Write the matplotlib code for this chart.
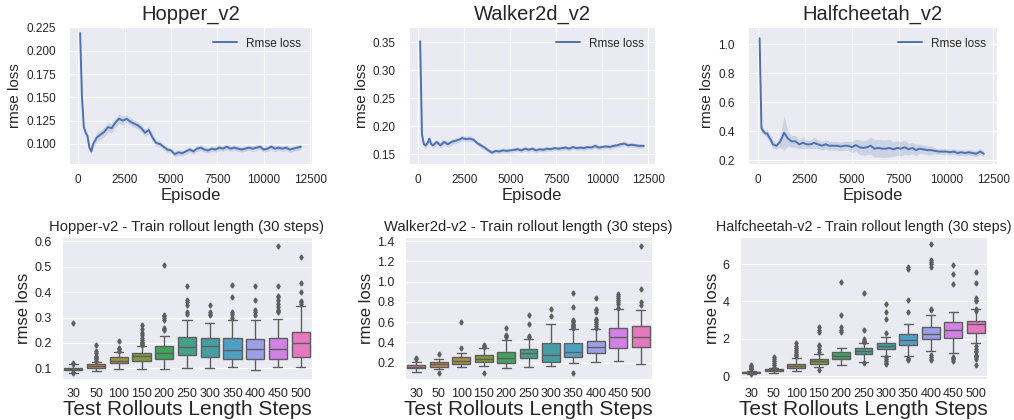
import numpy as np
import matplotlib
matplotlib.use("Agg")
import matplotlib.pyplot as plt
import seaborn as sns

# ---- top row: training curves ----
episodes = [100, 200, 300, 400, 500, 600, 700, 800, 1000, 1200, 1400, 1600, 1800,
            2000, 2200, 2400, 2600, 2800, 3000, 3200, 3400, 3600, 3800, 4000, 4200,
            4400, 4600, 4800, 5000, 5200, 5400, 5600, 5800, 6000, 6200, 6400, 6600,
            6800, 7000, 7200, 7400, 7600, 7800, 8000, 8200, 8400, 8600, 8800, 9000,
            9200, 9400, 9600, 9800, 10000, 10200, 10400, 10600, 10800, 11000, 11200,
            11400, 11600, 11800, 12000]
walker_episodes = episodes + [12250]

hopper_loss = [0.219, 0.150, 0.118, 0.112, 0.108, 0.096, 0.092, 0.100, 0.107, 0.110,
               0.113, 0.118, 0.117, 0.123, 0.127, 0.125, 0.127, 0.124, 0.122, 0.120,
               0.117, 0.112, 0.115, 0.107, 0.101, 0.100, 0.097, 0.094, 0.093, 0.089,
               0.091, 0.090, 0.092, 0.094, 0.092, 0.095, 0.096, 0.094, 0.093, 0.095,
               0.094, 0.096, 0.095, 0.097, 0.095, 0.096, 0.095, 0.094, 0.095, 0.096,
               0.095, 0.096, 0.097, 0.094, 0.095, 0.097, 0.095, 0.096, 0.095, 0.096,
               0.094, 0.095, 0.096, 0.097]
hopper_spread = [0.002, 0.003, 0.003, 0.003, 0.003, 0.003, 0.003, 0.004, 0.005, 0.005,
                 0.005, 0.005, 0.005, 0.005, 0.005, 0.005, 0.004, 0.004, 0.004, 0.004,
                 0.004, 0.004, 0.004, 0.004, 0.003, 0.003, 0.003, 0.003, 0.003, 0.003,
                 0.003, 0.003, 0.003, 0.003, 0.003, 0.003, 0.003, 0.003, 0.003, 0.003,
                 0.003, 0.003, 0.003, 0.003, 0.003, 0.003, 0.003, 0.003, 0.003, 0.003,
                 0.003, 0.003, 0.003, 0.003, 0.003, 0.003, 0.003, 0.003, 0.003, 0.003,
                 0.003, 0.003, 0.003, 0.003]

walker_loss = [0.352, 0.185, 0.168, 0.166, 0.170, 0.178, 0.168, 0.166, 0.172, 0.166,
               0.172, 0.168, 0.172, 0.174, 0.176, 0.179, 0.177, 0.178, 0.176, 0.170,
               0.166, 0.162, 0.157, 0.153, 0.156, 0.155, 0.157, 0.156, 0.157, 0.158,
               0.159, 0.157, 0.160, 0.158, 0.160, 0.157, 0.159, 0.158, 0.160, 0.159,
               0.161, 0.160, 0.161, 0.162, 0.160, 0.163, 0.161, 0.162, 0.161, 0.163,
               0.162, 0.165, 0.162, 0.163, 0.164, 0.163, 0.165, 0.166, 0.168, 0.169,
               0.166, 0.167, 0.166, 0.165, 0.165]
walker_spread = [0.012, 0.008, 0.005, 0.005, 0.005, 0.005, 0.005, 0.005, 0.005, 0.005,
                 0.005, 0.005, 0.005, 0.005, 0.005, 0.005, 0.005, 0.005, 0.004, 0.004,
                 0.004, 0.004, 0.004, 0.004, 0.004, 0.004, 0.004, 0.004, 0.004, 0.004,
                 0.004, 0.004, 0.004, 0.004, 0.004, 0.004, 0.004, 0.004, 0.004, 0.004,
                 0.004, 0.004, 0.004, 0.004, 0.004, 0.004, 0.004, 0.004, 0.004, 0.004,
                 0.004, 0.004, 0.004, 0.004, 0.004, 0.004, 0.004, 0.004, 0.004, 0.004,
                 0.004, 0.004, 0.004, 0.004, 0.004]

cheetah_loss = [1.04, 0.42, 0.40, 0.385, 0.385, 0.36, 0.34, 0.31, 0.30, 0.33,
                0.39, 0.35, 0.33, 0.33, 0.31, 0.32, 0.31, 0.31, 0.32, 0.31,
                0.30, 0.31, 0.30, 0.30, 0.30, 0.295, 0.30, 0.30, 0.29, 0.305,
                0.29, 0.285, 0.29, 0.30, 0.28, 0.285, 0.28, 0.28, 0.285, 0.275,
                0.285, 0.28, 0.29, 0.275, 0.285, 0.27, 0.28, 0.275, 0.27, 0.27,
                0.265, 0.26, 0.26, 0.26, 0.255, 0.26, 0.25, 0.255, 0.25, 0.255,
                0.25, 0.245, 0.26, 0.245]
cheetah_spread = [0.05, 0.03, 0.02, 0.02, 0.03, 0.03, 0.03, 0.03, 0.02, 0.04,
                  0.12, 0.05, 0.04, 0.04, 0.03, 0.04, 0.03, 0.03, 0.04, 0.03,
                  0.03, 0.03, 0.03, 0.03, 0.03, 0.03, 0.03, 0.03, 0.04, 0.04,
                  0.05, 0.05, 0.05, 0.06, 0.06, 0.06, 0.06, 0.06, 0.06, 0.05,
                  0.05, 0.05, 0.05, 0.04, 0.04, 0.04, 0.03, 0.03, 0.03, 0.03,
                  0.02, 0.02, 0.02, 0.02, 0.02, 0.02, 0.02, 0.02, 0.02, 0.02,
                  0.02, 0.02, 0.02, 0.02]

# ---- bottom row: box plots of test rollout errors ----
steps = ["30", "50", "100", "150", "200", "250", "300", "350", "400", "450", "500"]

# per box: q1, median, q3, lower whisker, upper whisker
hopper_q1 = [0.092, 0.100, 0.120, 0.129, 0.137, 0.151, 0.143, 0.135, 0.135, 0.138, 0.143]
hopper_med = [0.096, 0.108, 0.130, 0.150, 0.159, 0.185, 0.188, 0.172, 0.175, 0.175, 0.201]
hopper_q3 = [0.100, 0.117, 0.144, 0.159, 0.189, 0.224, 0.218, 0.218, 0.214, 0.218, 0.244]
hopper_lo = [0.083, 0.090, 0.096, 0.097, 0.096, 0.100, 0.100, 0.104, 0.093, 0.104, 0.104]
hopper_hi = [0.116, 0.126, 0.163, 0.188, 0.228, 0.292, 0.277, 0.289, 0.289, 0.295, 0.345]
hopper_fliers = [
    [0.279, 0.118, 0.121, 0.085, 0.080],
    [0.130, 0.135, 0.140, 0.145, 0.150, 0.160, 0.170, 0.193],
    [0.170, 0.175, 0.180, 0.206],
    [0.190, 0.195, 0.200, 0.205, 0.210, 0.220, 0.230, 0.240, 0.255, 0.270],
    [0.250, 0.255, 0.260, 0.290, 0.300, 0.305, 0.310, 0.505],
    [0.315, 0.320, 0.350, 0.360, 0.370, 0.425],
    [0.310, 0.315, 0.320, 0.350],
    [0.300, 0.315, 0.320, 0.380, 0.430],
    [0.310, 0.320, 0.330, 0.370, 0.425],
    [0.320, 0.325, 0.330, 0.340, 0.355, 0.370, 0.380, 0.385, 0.425, 0.580],
    [0.355, 0.360, 0.365, 0.400, 0.435, 0.540],
]

walker_q1 = [0.145, 0.154, 0.187, 0.210, 0.193, 0.246, 0.207, 0.259, 0.298, 0.350, 0.356]
walker_med = [0.161, 0.187, 0.220, 0.233, 0.249, 0.298, 0.275, 0.311, 0.353, 0.451, 0.451]
walker_q3 = [0.175, 0.210, 0.259, 0.275, 0.311, 0.340, 0.396, 0.396, 0.415, 0.539, 0.558]
walker_lo = [0.112, 0.135, 0.154, 0.170, 0.145, 0.160, 0.167, 0.193, 0.203, 0.216, 0.190]
walker_hi = [0.210, 0.242, 0.300, 0.350, 0.428, 0.438, 0.578, 0.533, 0.530, 0.730, 0.720]
walker_fliers = [
    [0.235, 0.245],
    [0.290, 0.100],
    [0.350, 0.600],
    [0.360, 0.370, 0.380, 0.100],
    [0.450, 0.460, 0.470, 0.545],
    [0.450, 0.460, 0.580, 0.670],
    [0.665, 0.730],
    [0.540, 0.550, 0.560, 0.570, 0.580, 0.600, 0.610, 0.620, 0.750, 0.885, 0.100],
    [0.540, 0.560, 0.580, 0.600, 0.620, 0.630, 0.700, 0.720, 0.730, 0.835],
    [0.740, 0.780, 0.800, 0.820, 0.840, 0.860, 0.875],
    [0.770, 0.800, 0.930, 1.350],
]

cheetah_q1 = [0.14, 0.25, 0.41, 0.645, 0.91, 1.18, 1.43, 1.65, 1.97, 2.02, 2.33]
cheetah_med = [0.20, 0.30, 0.54, 0.81, 1.09, 1.34, 1.63, 1.93, 2.26, 2.47, 2.79]
cheetah_q3 = [0.23, 0.36, 0.645, 0.93, 1.27, 1.52, 1.79, 2.24, 2.61, 2.87, 2.95]
cheetah_lo = [0.11, 0.15, 0.27, 0.50, 0.59, 0.77, 1.09, 1.07, 1.34, 1.22, 1.76]
cheetah_hi = [0.29, 0.45, 0.99, 1.16, 1.52, 1.76, 2.08, 2.78, 3.26, 3.42, 3.58]
cheetah_fliers = [
    [0.35, 0.40, 0.45, 0.50, 0.55, 0.60, 0.10],
    [0.50, 0.60, 0.70, 0.80, 0.90, 1.04],
    [1.05, 1.10, 1.20, 1.30, 1.40, 1.50, 1.60, 1.75],
    [1.30, 1.45, 1.60, 1.65, 2.35, 2.45, 2.60, 0.30],
    [2.35, 2.45, 2.60, 3.25, 5.05],
    [1.80, 1.85, 1.90, 2.00, 2.45, 4.45, 0.70],
    [2.30, 3.05, 3.45, 3.85, 0.65, 0.70, 0.80, 0.90, 1.00],
    [3.45, 4.10, 5.75, 5.85, 0.90, 0.95, 0.85],
    [3.55, 3.60, 5.85, 6.00, 6.10, 6.20, 7.10, 0.90, 1.00, 1.10, 0.85],
    [4.95, 5.45, 5.95, 0.80, 0.90, 0.95, 1.00],
    [3.50, 3.60, 4.00, 4.10, 4.20, 5.00, 5.60, 0.60, 0.90, 1.00, 1.05, 1.10,
     1.30, 1.35, 1.45, 1.60],
]

sns.set_style("darkgrid")
plt.rcParams["font.family"] = ["Liberation Sans", "DejaVu Sans"]
plt.rcParams["xtick.major.pad"] = 3
plt.rcParams["ytick.major.pad"] = 4

fig = plt.figure(figsize=(10.14, 4.2), dpi=100)

line_color = "#4c72b0"
top_specs = [
    ("Hopper_v2", episodes, hopper_loss, hopper_spread, [0.69, 2.56, 2.43, 1.37],
     (-500, 12600), (0.0785, 0.2255), [0.100, 0.125, 0.150, 0.175, 0.200, 0.225], "{:.3f}"),
    ("Walker2d_v2", walker_episodes, walker_loss, walker_spread, [4.09, 2.56, 2.46, 1.37],
     (-505, 12860), (0.1326, 0.3776), [0.15, 0.20, 0.25, 0.30, 0.35], "{:.2f}"),
    ("Halfcheetah_v2", episodes, cheetah_loss, cheetah_spread, [7.48, 2.56, 2.49, 1.37],
     (-515, 12700), (0.1745, 1.117), [0.2, 0.4, 0.6, 0.8, 1.0], "{:.1f}"),
]

for title, x, y, s, rect, xl, yl, yt, fmt in top_specs:
    ax = fig.add_axes([rect[0] / 10.14, rect[1] / 4.2, rect[2] / 10.14, rect[3] / 4.2])
    y = np.array(y)
    s = np.array(s)
    ax.fill_between(x, y - s, y + s, color=line_color, alpha=0.2, linewidth=0)
    ax.plot(x, y, color=line_color, linewidth=1.4, label="Rmse loss")
    ax.set_xlim(*xl)
    ax.set_ylim(*yl)
    ax.set_xticks([0, 2500, 5000, 7500, 10000, 12500])
    ax.set_yticks(yt)
    ax.set_yticklabels([fmt.format(v) for v in yt])
    ax.tick_params(labelsize=8.5, colors="#262626")
    ax.tick_params(axis="x", pad=4)
    ax.tick_params(axis="y", pad=6)
    ax.set_title(title, fontsize=14.5, color="#262626", pad=5)
    ax.set_xlabel("Episode", fontsize=12, color="#262626", labelpad=1)
    ax.set_ylabel("rmse loss", fontsize=11, color="#262626", labelpad=3)
    ax.legend(loc="upper right", fontsize=8.5, frameon=False)

palette = [sns.desaturate(c, 0.75) for c in sns.color_palette("husl", 11)]
box_gray = "#5e5e5e"

bottom_specs = [
    ("Hopper-v2 - Train rollout length (30 steps)", hopper_q1, hopper_med, hopper_q3,
     hopper_lo, hopper_hi, hopper_fliers, [0.62, 0.41, 2.50, 1.42],
     (0.058, 0.617), [0.1, 0.2, 0.3, 0.4, 0.5, 0.6], "{:.1f}", 10.6),
    ("Walker2d-v2 - Train rollout length (30 steps)", walker_q1, walker_med, walker_q3,
     walker_lo, walker_hi, walker_fliers, [4.05, 0.41, 2.47, 1.42],
     (0.04, 1.44), [0.2, 0.4, 0.6, 0.8, 1.0, 1.2, 1.4], "{:.1f}", 10.6),
    ("Halfcheetah-v2 - Train rollout length (30 steps)", cheetah_q1, cheetah_med, cheetah_q3,
     cheetah_lo, cheetah_hi, cheetah_fliers, [7.40, 0.41, 2.47, 1.42],
     (-0.16, 7.45), [0, 2, 4, 6], "{:.0f}", 10.3),
]

for title, q1, med, q3, lo, hi, fl, rect, yl, yt, fmt, tsize in bottom_specs:
    ax = fig.add_axes([rect[0] / 10.14, rect[1] / 4.2, rect[2] / 10.14, rect[3] / 4.2])
    stats = []
    for i in range(len(steps)):
        stats.append({"q1": q1[i], "med": med[i], "q3": q3[i],
                      "whislo": lo[i], "whishi": hi[i], "fliers": fl[i],
                      "label": steps[i]})
    bp = ax.bxp(stats, positions=range(len(steps)), widths=0.8, patch_artist=True,
                boxprops=dict(edgecolor=box_gray, linewidth=1.0),
                medianprops=dict(color=box_gray, linewidth=1.0),
                whiskerprops=dict(color=box_gray, linewidth=1.0),
                capprops=dict(color=box_gray, linewidth=1.0),
                flierprops=dict(marker="d", markersize=2.6, markerfacecolor=box_gray,
                                markeredgecolor=box_gray, linestyle="none"))
    for patch, c in zip(bp["boxes"], palette):
        patch.set_facecolor(c)
    ax.set_xlim(-0.5, len(steps) - 0.5)
    ax.set_ylim(*yl)
    ax.set_yticks(yt)
    ax.set_yticklabels([fmt.format(v) for v in yt])
    ax.set_xticks(range(len(steps)))
    ax.set_xticklabels(steps)
    ax.xaxis.grid(False)
    ax.tick_params(labelsize=9, colors="#262626")
    ax.set_title(title, fontsize=tsize, color="#262626", pad=4)
    ax.set_xlabel("Test Rollouts Length Steps", fontsize=15, color="#262626", labelpad=0)
    ax.set_ylabel("rmse loss", fontsize=12, color="#262626", labelpad=2)

fig.savefig("out.png", dpi=100)
